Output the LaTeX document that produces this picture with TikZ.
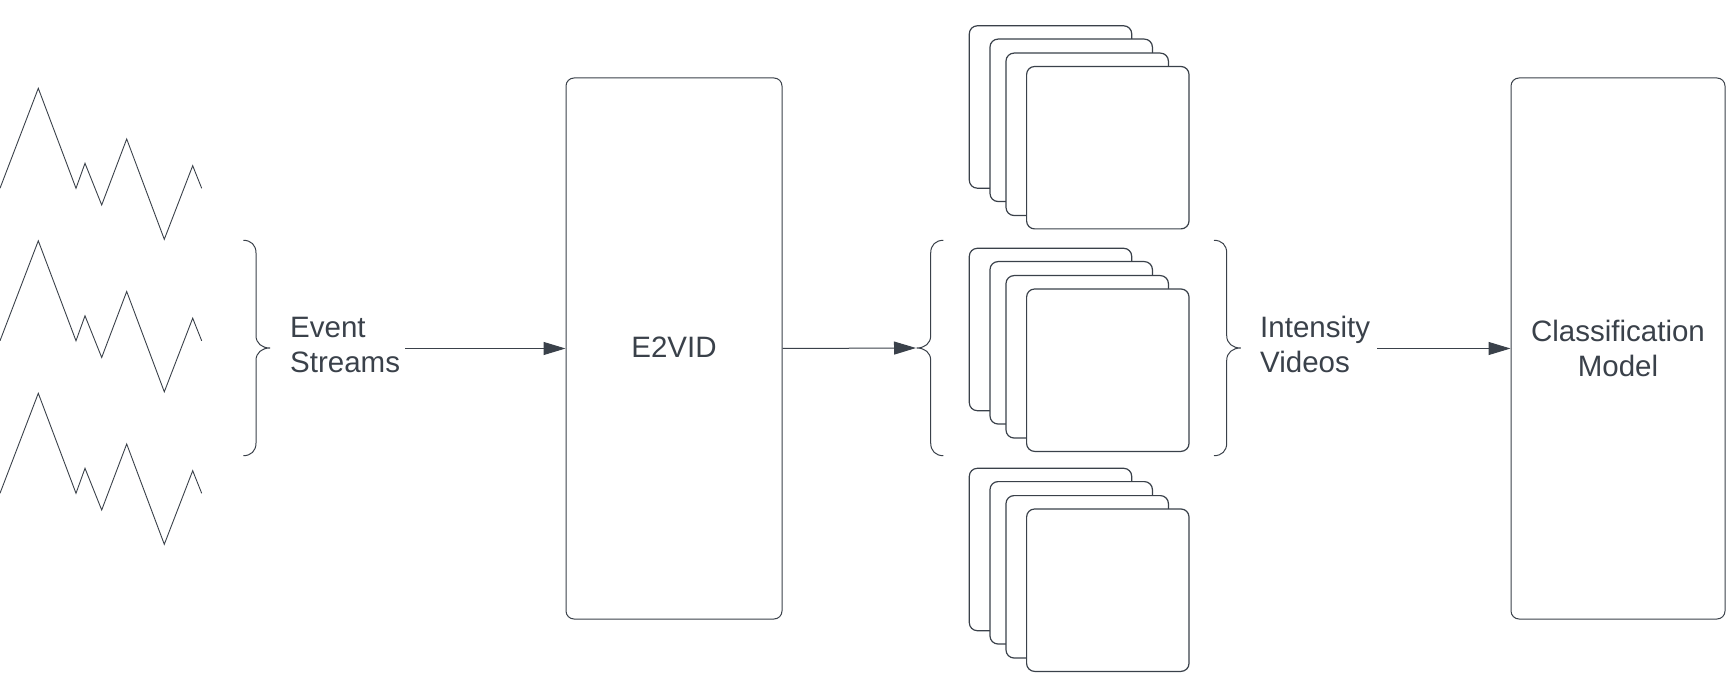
\documentclass[tikz,border=0pt]{standalone}
\usepackage{fontspec}
\setmainfont{Liberation Sans}
\usetikzlibrary{arrows.meta}
\definecolor{ink}{HTML}{3A414A}
\begin{document}
\begin{tikzpicture}[x=1pt,y=-1pt,
  box/.style={draw=ink, line width=1pt, rounded corners=8pt, inner sep=0pt},
  frame/.style={draw=ink, line width=1.2pt, fill=white, rounded corners=8pt, minimum width=162.4pt, minimum height=162.4pt, inner sep=0pt},
  lbl/.style={text=ink, font=\fontsize{29.5}{35}\selectfont, inner sep=0pt},
  arr/.style={draw=ink, line width=1pt, -{Triangle[length=22pt,width=13pt]}},
  wave/.style={draw=ink, line width=0.9pt, line join=miter},
  brace/.style={draw=ink, line width=1pt},
  rbrace/.pic={\draw[brace] (-26.7,-107.7) .. controls (-19,-107.7) and (-14,-103) .. (-14,-95) -- (-14,-12.5) .. controls (-14,-4.5) and (-8,0) .. (0,0) .. controls (-8,0) and (-14,4.5) .. (-14,12.5) -- (-14,95) .. controls (-14,103) and (-19,107.7) .. (-26.7,107.7);}]
\useasboundingbox (0,0) rectangle (1727,700);

% event streams (zigzags)
\foreach \dy in {0,152.5,305}{
  \draw[wave, shift={(0,\dy)}] (0,188.3) -- (38.3,88.3) -- (76,188.3) -- (85,163.3) -- (101.7,205) -- (126.7,139) -- (164.3,239.3) -- (192.7,165.7) -- (201.7,188.3);
}

% braces
\pic at (270,348) {rbrace};
\pic at (1240.7,348) {rbrace};
\pic[xscale=-1] at (916.7,348) {rbrace};
\coordinate (vtip) at (916,348);

% labels
\node[lbl, align=left, anchor=west] (evt) at (290,344.5) {Event\\Streams};
\node[lbl, align=left, anchor=west] (ivt) at (1260,344.5) {Intensity\\Videos};

% boxes
\node[box, lbl, minimum width=216pt, minimum height=541pt] (e2vid) at (674,348.5) {\raisebox{2.5pt}{E2VID}};
\node[box, lbl, align=center, minimum width=214pt, minimum height=541pt] (cls) at (1618,348.5) {Classification\\Model};

% frame stacks
\foreach \s/\y in {a/107, b/329.5, c/549.5}{
  \foreach \i/\dx/\dy in {1/0/0, 2/20.7/13.3, 3/36.7/27.3, 4/57.3/40.7}{
    \node[frame] (f\s\i) at ({1050.5+\dx},{\y+\dy}) {};
  }
}

% connectors
\draw[arr] ([xshift=5pt]evt.east |- e2vid.west) -- (e2vid.west);
\draw[arr] (e2vid.east) -- (vtip);
\draw[arr] ([xshift=7pt]ivt.east |- cls.west) -- (cls.west);
\end{tikzpicture}
\end{document}
